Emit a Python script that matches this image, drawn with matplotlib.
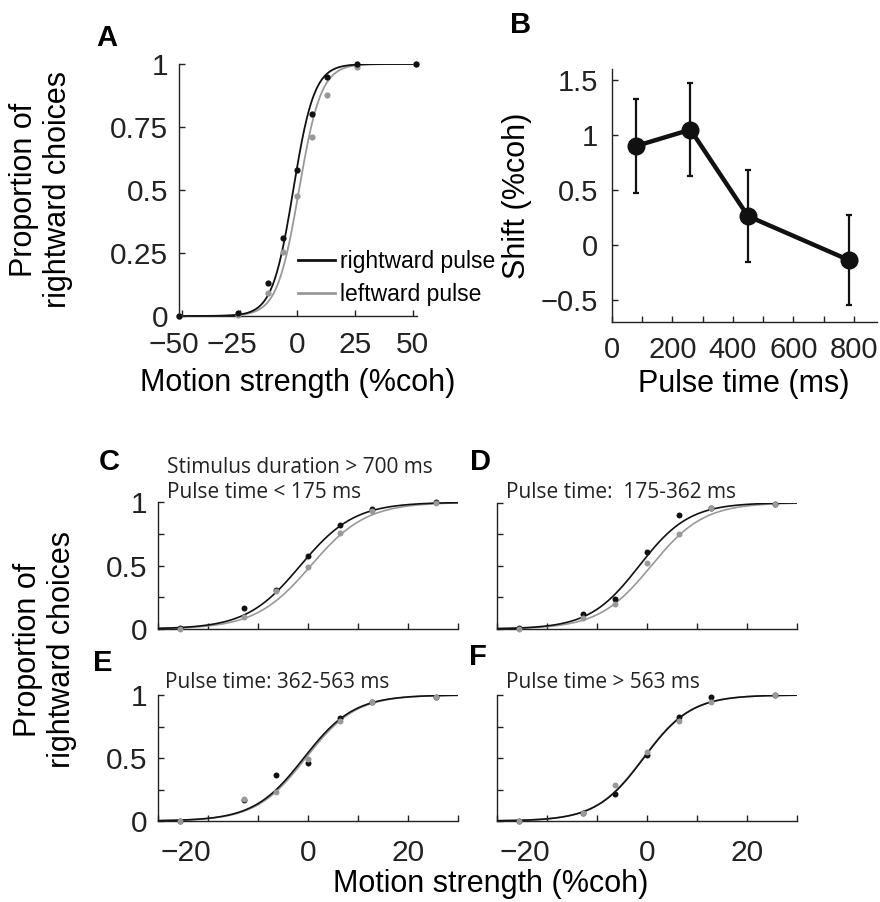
import numpy as np
import matplotlib
matplotlib.use("Agg")
import matplotlib.pyplot as plt
from matplotlib.lines import Line2D
import matplotlib.transforms as mtrans

plt.rcParams['font.family'] = ['Liberation Sans', 'DejaVu Sans']

# ---------------- data ----------------
coh_A = [-51.2, -25.6, -12.8, -6.4, 0, 6.4, 12.8, 25.6, 51.2]
A_right = [0.0, 0.01, 0.13, 0.31, 0.58, 0.80, 0.95, 1.0, 1.0]
A_left = [0.0, 0.005, 0.09, 0.255, 0.476, 0.71, 0.877, 0.99, 1.0]
A_fit_right = (-1.8, 0.22)   # (bias, slope) of logistic fit
A_fit_left = (0.7, 0.21)

pulse_time = [79, 260, 450, 782]
shift = [0.90, 1.05, 0.262, -0.137]
shift_err = [0.43, 0.425, 0.42, 0.41]

coh_sub = [-25.6, -12.8, -6.4, 0, 6.4, 12.8, 25.6]
C_right = [0.005, 0.168, 0.308, 0.579, 0.821, 0.947, 1.0]
C_left = [0.003, 0.092, 0.303, 0.489, 0.758, 0.932, 0.992]
D_right = [0.005, 0.116, 0.24, 0.612, 0.90, 0.955, 0.99]
D_left = [0.003, 0.084, 0.20, 0.525, 0.752, 0.955, 0.99]
E_right = [0.0, 0.167, 0.365, 0.458, 0.82, 0.947, 0.987]
E_left = [0.0, 0.175, 0.228, 0.495, 0.796, 0.947, 0.987]
F_right = [0.0, 0.061, 0.214, 0.524, 0.823, 0.987, 1.0]
F_left = [0.0, 0.061, 0.288, 0.545, 0.796, 0.947, 1.0]
C_fit = [(-1.6, 0.185), (0.5, 0.18)]
D_fit = [(-1.5, 0.20), (0.9, 0.19)]
E_fit = [(-0.9, 0.20), (-0.5, 0.20)]
F_fit = [(-0.6, 0.21), (-0.7, 0.21)]

sub_titles = ["Stimulus duration > 700 ms\nPulse time < 175 ms",
              "Pulse time:  175-362 ms",
              "Pulse time: 362-563 ms",
              "Pulse time > 563 ms"]
legend_labels = ["rightward pulse", "leftward pulse"]

BLACK = "#111111"
GREY = "#999999"

W, H = 880, 902
fig = plt.figure(figsize=(W / 100, H / 100), dpi=100)


def rect(l, t, r, b):
    return [l / W, 1 - b / H, (r - l) / W, (b - t) / H]


def logistic(x, p):
    mu, k = p
    return 1.0 / (1.0 + np.exp(-k * (x - mu)))


def style(ax, fs, xpad, ypad):
    for s in ['top', 'right']:
        ax.spines[s].set_visible(False)
    for s in ['left', 'bottom']:
        ax.spines[s].set_linewidth(1.0)
        ax.spines[s].set_color('#222222')
    ax.tick_params(direction='in', length=4, width=1.0, labelsize=fs,
                   color='#222222', labelcolor='#222222')
    ax.tick_params(axis='x', pad=xpad)
    ax.tick_params(axis='y', pad=ypad)


def shift_neg(ax, dx_px):
    off = mtrans.ScaledTranslation(-dx_px / 100, 0, fig.dpi_scale_trans)
    for lbl in ax.get_xticklabels():
        if lbl.get_text().startswith('\u2212'):
            lbl.set_transform(lbl.get_transform() + off)


def fmt(v):
    s = ('%g' % v)
    return s.replace('-', '\u2212')


# ---------------- panel A ----------------
axA = fig.add_axes(rect(179, 64, 417, 316))
style(axA, 21.5, 11, 8)
xs = np.linspace(-51.2, 51.2, 400)
axA.plot(xs, logistic(xs, A_fit_right), color=BLACK, lw=1.3, zorder=3)
axA.plot(xs, logistic(xs, A_fit_left), color=GREY, lw=1.3, zorder=2)
axA.plot(coh_A, A_left, 'o', color=GREY, ms=4.5, mec='none', zorder=4, clip_on=False)
axA.plot(coh_A, A_right, 'o', color=BLACK, ms=4.5, mec='none', zorder=5, clip_on=False)
axA.set_xlim(-51.3, 51.8)
axA.set_ylim(0, 1)
xt = [-50, -25, 0, 25, 50]
axA.set_xticks(xt, [fmt(v) for v in xt])
yt = [0, 0.25, 0.5, 0.75, 1]
axA.set_yticks(yt, ['0', '0.25', '0.5', '0.75', '1'])
shift_neg(axA, 8)
h = [Line2D([], [], color=BLACK, lw=2), Line2D([], [], color=GREY, lw=2)]
axA.legend(h, legend_labels, loc='lower left', bbox_to_anchor=(0.50, 0.04),
           frameon=False, fontsize=16.5, handlelength=1.6, handletextpad=0.22,
           labelspacing=0.45, borderaxespad=0, borderpad=0)
axA.set_xlabel("Motion strength (%coh)", fontsize=22, labelpad=6)
fig.text(41 / W, 1 - 190 / H, "Proportion of\nrightward choices", fontsize=22,
         rotation=90, ha='center', va='center', linespacing=1.16)
fig.text(107 / W, 1 - 38 / H, "A", fontsize=21, fontweight='bold', ha='center', va='center')

# ---------------- panel B ----------------
axB = fig.add_axes(rect(611.7, 69.3, 876.7, 321.7))
style(axB, 21, 10, 10)
axB.errorbar(pulse_time, shift, yerr=shift_err, color=BLACK, lw=3.2, marker='o',
             ms=12, elinewidth=1.6, capsize=2.2, capthick=1.6, zorder=3)
axB.set_xlim(0, 875)
axB.set_ylim(-0.7, 1.6)
axB.set_xticks(np.arange(0, 900, 100))
axB.set_xticklabels(['0', '', '200', '', '400', '', '600', '', '800'])
axB.set_yticks([-0.5, 0, 0.5, 1, 1.5], ['\u22120.5', '0', '0.5', '1', '1.5'])
axB.set_xlabel("Pulse time (ms)", fontsize=22, labelpad=4)
axB.set_ylabel("Shift (%coh)", fontsize=22, labelpad=6)
fig.text(521 / W, 1 - 25 / H, "B", fontsize=21, fontweight='bold', ha='center', va='center')

# ---------------- panels C-F ----------------
# (rect, right, left, fits, letter, letter pos, title pos, show x labels, show y labels)
subs = [
    (rect(158.3, 502.3, 458.3, 629), C_right, C_left, C_fit, "C", (109, 462), (167, 480), False, True),
    (rect(496.7, 502.7, 796.7, 629), D_right, D_left, D_fit, "D", (480, 462), (506, 493), False, False),
    (rect(158.3, 695, 458.3, 821), E_right, E_left, E_fit, "E", (103, 663), (165, 682), True, True),
    (rect(496.7, 695, 796.7, 821), F_right, F_left, F_fit, "F", (478, 657), (506, 683), True, False),
]
xs2 = np.linspace(-30, 30, 400)
for i, (r, yr, yl, fits, letter, lpos, tpos, showx, showy) in enumerate(subs):
    ax = fig.add_axes(r)
    style(ax, 21.5, 13, 8)
    ax.plot(xs2, logistic(xs2, fits[0]), color=BLACK, lw=1.2, zorder=3)
    ax.plot(xs2, logistic(xs2, fits[1]), color=GREY, lw=1.2, zorder=2)
    ax.plot(coh_sub, yr, 'o', color=BLACK, ms=4.3, mec='none', zorder=4, clip_on=False)
    ax.plot(coh_sub, yl, 'o', color=GREY, ms=4.3, mec='none', zorder=5, clip_on=False)
    ax.set_xlim(-30, 30)
    ax.set_ylim(0, 1)
    ax.set_xticks(np.arange(-30, 31, 10))
    if showx:
        ax.set_xticklabels(['', '\u221220', '', '0', '', '20', ''])
        shift_neg(ax, 22)
    else:
        ax.set_xticklabels([])
    ax.set_yticks([0, 0.25, 0.5, 0.75, 1])
    if showy:
        ax.set_yticklabels(['0', '', '0.5', '', '1'])
    else:
        ax.set_yticklabels([])
    fig.text(lpos[0] / W, 1 - lpos[1] / H, letter, fontsize=21, fontweight='bold',
             ha='center', va='center')
    fig.text(tpos[0] / W, 1 - tpos[1] / H, sub_titles[i], fontsize=15,
             family=['Open Sans', 'DejaVu Sans'], ha='left', va='center',
             linespacing=1.2, color='#222222')

fig.text(491 / W, 1 - 884 / H, "Motion strength (%coh)", fontsize=22, ha='center', va='center')
fig.text(45 / W, 1 - 650 / H, "Proportion of\nrightward choices", fontsize=22,
         rotation=90, ha='center', va='center', linespacing=1.16)

fig.savefig("out.png", dpi=100)
